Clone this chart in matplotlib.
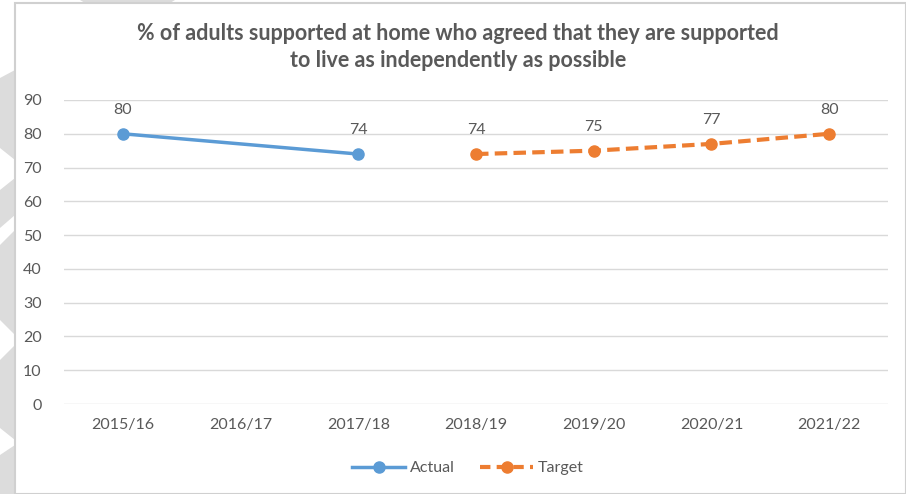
import matplotlib
matplotlib.use('Agg')
import matplotlib.pyplot as plt
from matplotlib.patches import Polygon, Rectangle
from matplotlib.lines import Line2D

categories = ['2015/16', '2016/17', '2017/18', '2018/19', '2019/20', '2020/21', '2021/22']
actual_idx = [0, 2]
actual_vals = [80, 74]
target_idx = [3, 4, 5, 6]
target_vals = [74, 75, 77, 80]

BLUE = '#5B9BD5'
ORANGE = '#ED7D31'
GREY_TXT = '#595959'
W, H = 906, 494

plt.rcParams['font.family'] = ['Lato', 'DejaVu Sans']

fig = plt.figure(figsize=(W / 100, H / 100), dpi=100)


def px(x, y):
    # pixel coords (from top-left) -> figure fraction
    return (x / W, 1 - y / H)


# background decoration on the left / top
grey_bg = '#DCDCDC'
for pts in [
    [(0, 78), (15, 70), (15, 160), (0, 148)],
    [(0, 190), (15, 178), (15, 215), (0, 228)],
    [(0, 245), (15, 230), (15, 335), (0, 320)],
    [(0, 360), (15, 345), (15, 440), (0, 428)],
    [(0, 455), (15, 445), (15, 494), (0, 494)],
    [(80, 0), (175, 0), (170, 3), (85, 3)],
]:
    fig.patches.append(Polygon([px(*p) for p in pts], closed=True,
                               transform=fig.transFigure, facecolor=grey_bg,
                               edgecolor='none', zorder=0))
fig.patches.append(Rectangle(px(15, 494), (W - 15) / W, (494 - 3) / H,
                             transform=fig.transFigure, facecolor='white',
                             edgecolor='#D0D0D0', linewidth=1.5, zorder=0.5))

ax = fig.add_axes([64 / W, 1 - 404 / H, (888 - 64) / W, (404 - 100) / H])
ax.set_facecolor('none')
ax.set_zorder(2)

ax.plot(actual_idx, actual_vals, color=BLUE, linewidth=2.5, marker='o',
        markersize=8, solid_capstyle='round', zorder=3)
ax.plot(target_idx, target_vals, color=ORANGE, linewidth=3, marker='o',
        markersize=8, linestyle=(0, (3, 1.5)), zorder=3)

for i, v in zip(actual_idx + target_idx, actual_vals + target_vals):
    ax.annotate(str(v), (i, v), xytext=(0, 17), textcoords='offset points',
                ha='center', va='center', fontsize=11.5, color=GREY_TXT)

ax.set_xlim(-0.5, len(categories) - 0.5)
ax.set_ylim(0, 90)
ax.set_yticks(range(0, 91, 10))
ax.set_xticks(range(len(categories)))
ax.set_xticklabels(categories)
ax.tick_params(axis='both', length=0, labelsize=11.5, labelcolor=GREY_TXT)
ax.tick_params(axis='x', pad=10)
ax.tick_params(axis='y', pad=16)
ax.grid(axis='y', color='#D9D9D9', linewidth=1)
ax.set_axisbelow(True)
for s in ax.spines.values():
    s.set_visible(False)

fig.text(458 / W, 1 - 47 / H,
         '% of adults supported at home who agreed that they are supported\n'
         'to live as independently as possible',
         ha='center', va='center', fontsize=15.5, fontweight='bold',
         color=GREY_TXT, linespacing=1.3, zorder=3)

handles = [
    Line2D([], [], color=BLUE, linewidth=2.5, marker='o', markersize=8),
    Line2D([], [], color=ORANGE, linewidth=3, marker='o', markersize=8,
           linestyle=(0, (2.5, 1.5))),
]
leg = fig.legend(handles, ['Actual', 'Target'], loc='center',
                 bbox_to_anchor=(468 / W, 1 - 468 / H), ncol=2, frameon=False,
                 fontsize=11.5, labelcolor=GREY_TXT, handlelength=3.3,
                 columnspacing=1.6, handletextpad=0.3)
leg.set_zorder(3)

fig.savefig('out.png', dpi=100)
